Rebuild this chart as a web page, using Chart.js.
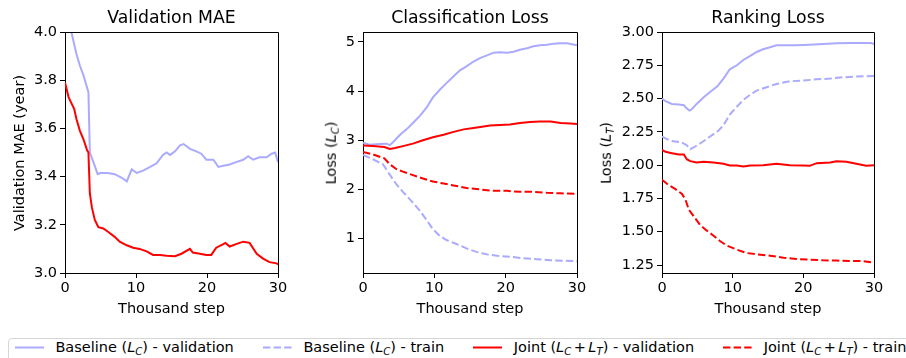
<!DOCTYPE html>
<html><head><meta charset="utf-8">
<script src="https://cdn.jsdelivr.net/npm/chart.js@4.4.1/dist/chart.umd.min.js"></script>
<style>
html,body{margin:0;padding:0;background:#fff;width:906px;height:358px;overflow:hidden;position:relative;font-family:'DejaVu Sans',sans-serif;color:#000;}
canvas{position:absolute;top:0;}
.ylab{position:absolute;font-size:14.5px;line-height:1;white-space:nowrap;color:#000;transform:translate(-50%,-50%) rotate(-90deg);}
.m sub,#legend sub{font-size:70%;vertical-align:baseline;position:relative;top:0.28em;line-height:0;font-style:italic;}
.op{margin:0 0.17em;}
#legend{position:absolute;left:8px;top:338px;width:940px;height:40px;border:1px solid #d6d6d6;border-radius:4px;box-sizing:border-box;display:flex;align-items:flex-start;padding-left:5.8px;padding-top:0px;font-size:14.5px;}
#legend .item{display:flex;align-items:center;height:17px;line-height:17px;margin-right:29px;white-space:nowrap;}
#legend svg{margin-right:11.6px;display:block;}
</style>
</head><body>
<canvas id="c1" width="300" height="330" style="left:0px"></canvas>
<canvas id="c2" width="300" height="330" style="left:300px"></canvas>
<canvas id="c3" width="306" height="330" style="left:600px"></canvas>
<div class="ylab m" style="left:18.6px;top:152.5px">Validation MAE (year)</div>
<div class="ylab m" style="left:330.6px;top:152.5px">Loss (<i>L</i><sub>C</sub>)</div>
<div class="ylab m" style="left:605.6px;top:152.5px">Loss (<i>L</i><sub>T</sub>)</div>
<div id="legend"></div>
<script>
// ---- tick values ----
const xTicks = [0, 10, 20, 30];
const maeTicks = [3.0, 3.2, 3.4, 3.6, 3.8, 4.0];
const clsTicks = [1, 2, 3, 4, 5];
const rankTicks = [1.25, 1.50, 1.75, 2.00, 2.25, 2.50, 2.75, 3.00];

// ---- series names ----
const seriesNames = [
  'Baseline (<i>L</i><sub>C</sub>) - validation',
  'Baseline (<i>L</i><sub>C</sub>) - train',
  'Joint (<i>L</i><sub>C</sub><span class="op">+</span><i>L</i><sub>T</sub>) - validation',
  'Joint (<i>L</i><sub>C</sub><span class="op">+</span><i>L</i><sub>T</sub>) - train'
];

// ---- Validation MAE (thousand steps / years) ----
const maeBaseSteps = [0, 0.9, 1.6, 2.1, 2.6, 3.1, 3.3, 3.5, 4.0, 4.6, 5.0, 6.0, 7.0, 8.0, 8.7, 9.4, 10.1, 11.0, 12.0, 12.9, 13.8, 14.3, 14.8, 15.5, 16.2, 16.7, 17.6, 18.5, 19.2, 19.9, 20.9, 21.6, 22.3, 23.2, 24.1, 25.1, 25.8, 26.5, 27.4, 28.4, 29.1, 29.6, 30];
const maeBaseVals  = [4.10, 4.00, 3.91, 3.86, 3.82, 3.77, 3.75, 3.50, 3.46, 3.41, 3.415, 3.415, 3.41, 3.395, 3.38, 3.43, 3.415, 3.425, 3.44, 3.455, 3.49, 3.50, 3.49, 3.505, 3.53, 3.535, 3.515, 3.505, 3.495, 3.47, 3.47, 3.44, 3.445, 3.45, 3.46, 3.47, 3.485, 3.47, 3.48, 3.48, 3.495, 3.50, 3.46];
const maeJointSteps = [0, 0.5, 0.9, 1.3, 1.6, 2.1, 2.6, 3.1, 3.3, 3.5, 3.8, 4.2, 4.7, 5.4, 6.1, 7.0, 7.7, 8.7, 9.6, 10.5, 11.5, 12.4, 13.4, 14.3, 15.5, 16.4, 17.6, 18.0, 19.0, 19.9, 20.6, 21.3, 22.3, 22.6, 23.2, 24.1, 25.1, 26.0, 27.0, 27.9, 28.8, 29.8, 30];
const maeJointVals  = [3.79, 3.73, 3.705, 3.68, 3.64, 3.59, 3.555, 3.51, 3.50, 3.33, 3.27, 3.22, 3.19, 3.185, 3.17, 3.15, 3.13, 3.115, 3.105, 3.10, 3.09, 3.075, 3.075, 3.072, 3.07, 3.08, 3.10, 3.085, 3.08, 3.075, 3.075, 3.105, 3.12, 3.125, 3.11, 3.12, 3.13, 3.125, 3.08, 3.06, 3.045, 3.04, 3.035];

// ---- Classification loss ----
const clsBaseValSteps = [0, 0.9, 2.3, 3.3, 3.75, 4.2, 5.2, 6.1, 7.0, 8.0, 8.9, 9.8, 10.8, 11.7, 12.7, 13.6, 14.5, 15.5, 16.4, 17.3, 18.3, 19.2, 20.2, 21.1, 22.0, 23.0, 23.9, 24.8, 25.8, 26.7, 27.7, 28.6, 29.3, 30];
const clsBaseValVals  = [2.95, 2.91, 2.925, 2.93, 2.90, 2.96, 3.11, 3.22, 3.35, 3.50, 3.66, 3.87, 4.03, 4.16, 4.30, 4.42, 4.50, 4.60, 4.67, 4.72, 4.78, 4.79, 4.78, 4.80, 4.84, 4.87, 4.91, 4.93, 4.94, 4.96, 4.97, 4.97, 4.95, 4.93];
const clsBaseTrainSteps = [0, 1.4, 2.8, 3.75, 4.7, 5.6, 7.0, 8.0, 8.9, 9.8, 10.8, 11.7, 13.1, 14.5, 15.9, 17.3, 18.8, 20.6, 22.5, 24.4, 26.3, 28.1, 30];
const clsBaseTrainVals  = [2.70, 2.61, 2.51, 2.30, 2.10, 1.95, 1.73, 1.56, 1.38, 1.19, 1.05, 0.97, 0.89, 0.80, 0.73, 0.68, 0.65, 0.63, 0.60, 0.58, 0.56, 0.55, 0.54];
const clsJointValSteps = [0, 1.4, 3.0, 3.75, 4.5, 5.6, 7.0, 8.4, 9.8, 11.3, 12.7, 14.1, 15.5, 16.9, 17.8, 19.2, 20.6, 22.0, 23.4, 24.8, 26.3, 27.7, 29.1, 30];
const clsJointValVals  = [2.89, 2.88, 2.86, 2.82, 2.84, 2.88, 2.93, 3.00, 3.06, 3.11, 3.17, 3.22, 3.25, 3.28, 3.30, 3.31, 3.32, 3.35, 3.37, 3.38, 3.38, 3.35, 3.34, 3.33];
const clsJointTrainSteps = [0, 1.4, 3.0, 3.75, 4.7, 5.6, 7.0, 8.4, 9.8, 11.3, 12.7, 14.5, 16.4, 18.3, 20.2, 22.0, 23.9, 25.8, 27.7, 30];
const clsJointTrainVals  = [2.76, 2.71, 2.63, 2.51, 2.41, 2.36, 2.29, 2.22, 2.16, 2.12, 2.08, 2.03, 2.00, 1.97, 1.97, 1.95, 1.95, 1.93, 1.92, 1.91];

// ---- Ranking loss ----
const rankBaseValSteps = [0, 0.5, 1.4, 2.4, 3.1, 3.4, 3.9, 4.2, 4.9, 5.9, 6.8, 7.8, 8.7, 9.6, 10.6, 11.5, 12.5, 13.4, 14.3, 15.3, 16.2, 17.2, 19.0, 20.9, 22.8, 24.7, 26.6, 28.4, 29.6, 30];
const rankBaseValVals  = [2.50, 2.48, 2.46, 2.455, 2.45, 2.43, 2.41, 2.42, 2.46, 2.51, 2.55, 2.59, 2.65, 2.72, 2.75, 2.79, 2.82, 2.85, 2.87, 2.885, 2.90, 2.90, 2.90, 2.905, 2.91, 2.915, 2.917, 2.917, 2.917, 2.91];
const rankBaseTrainSteps = [0, 0.7, 1.6, 2.8, 3.5, 4.0, 4.7, 5.6, 6.8, 8.0, 8.7, 9.6, 10.6, 11.5, 12.5, 13.4, 14.8, 16.2, 18.1, 20.0, 21.9, 23.8, 25.6, 27.5, 30];
const rankBaseTrainVals  = [2.215, 2.195, 2.18, 2.17, 2.15, 2.12, 2.14, 2.17, 2.215, 2.26, 2.30, 2.38, 2.44, 2.49, 2.53, 2.56, 2.585, 2.61, 2.63, 2.635, 2.645, 2.65, 2.66, 2.665, 2.67];
const rankJointValSteps = [0, 0.5, 1.4, 2.4, 3.1, 3.5, 4.0, 4.9, 5.9, 7.3, 8.7, 9.6, 10.6, 11.5, 12.5, 14.3, 16.2, 18.1, 20.0, 20.9, 21.9, 23.8, 24.7, 26.1, 27.5, 28.9, 30];
const rankJointValVals  = [2.115, 2.10, 2.09, 2.08, 2.08, 2.045, 2.03, 2.02, 2.025, 2.02, 2.01, 1.998, 1.998, 1.99, 1.998, 2.00, 2.01, 2.00, 1.998, 1.995, 2.015, 2.02, 2.03, 2.025, 2.01, 1.995, 2.00];
const rankJointTrainSteps = [0, 0.7, 1.9, 2.8, 3.3, 3.8, 4.5, 5.4, 6.3, 7.3, 8.2, 9.2, 10.6, 12.0, 13.4, 15.3, 17.2, 19.0, 20.9, 22.8, 24.7, 26.6, 28.4, 30];
const rankJointTrainVals  = [1.89, 1.86, 1.82, 1.785, 1.745, 1.665, 1.615, 1.55, 1.51, 1.47, 1.43, 1.395, 1.365, 1.34, 1.33, 1.32, 1.305, 1.295, 1.29, 1.285, 1.283, 1.28, 1.28, 1.268];

// ---- styling ----
const FONT = "'DejaVu Sans'";
const BLUE = '#aaaaff';
const RED = '#ff0000';
const DASH = [7.4, 3.2];
const seriesStyles = [
  {color: BLUE, dash: []},
  {color: BLUE, dash: DASH},
  {color: RED, dash: []},
  {color: RED, dash: DASH}
];

function series(steps, vals, idx) {
  const st = seriesStyles[idx];
  return {
    data: steps.map((s, i) => ({x: s, y: vals[i]})),
    borderColor: st.color, borderWidth: 2, borderDash: st.dash,
    pointRadius: 0, tension: 0, fill: false, clip: 0
  };
}

function alignPx(p) { return Math.round(p - 0.5) + 0.5; }
const boxPlugin = {
  id: 'box',
  afterDatasetsDraw(chart) {
    const {ctx, chartArea: a} = chart;
    ctx.save();
    ctx.strokeStyle = '#000';
    ctx.lineWidth = 1;
    ctx.beginPath();
    ctx.moveTo(alignPx(a.left), alignPx(a.top));
    ctx.lineTo(alignPx(a.right), alignPx(a.top));
    ctx.lineTo(alignPx(a.right), alignPx(a.bottom));
    ctx.stroke();
    ctx.restore();
  }
};

function axisCommon() {
  return {
    grid: {display: true, drawOnChartArea: false, drawTicks: true, tickLength: 5, color: '#000', lineWidth: 1},
    border: {display: true, color: '#000', width: 1}
  };
}

function makeChart(id, title, yMin, yMax, yTicks, yDec, yWidth, padRight, datasets) {
  // draw order: later matplotlib series on top -> reverse for Chart.js
  const ds = datasets.slice().reverse();
  return new Chart(document.getElementById(id), {
    type: 'line',
    data: {datasets: ds},
    plugins: [boxPlugin],
    options: {
      responsive: false, animation: false, devicePixelRatio: 1,
      layout: {padding: {left: 0, right: padRight, top: 0, bottom: 0}},
      plugins: {
        legend: {display: false}, tooltip: {enabled: false},
        title: {display: true, text: title, color: '#000', fullSize: false,
          font: {family: FONT, size: 17.3, weight: 'normal'}, padding: {top: 8, bottom: 3.24}}
      },
      scales: {
        x: Object.assign(axisCommon(), {
          type: 'linear', min: 0, max: 30,
          afterBuildTicks: s => { s.ticks = xTicks.map(v => ({value: v})); },
          afterFit: s => { s.height = 57; },
          ticks: {color: '#000', font: {family: FONT, size: 14.5}, padding: 2, maxRotation: 0, autoSkip: false,
            callback: v => String(v)},
          title: {display: true, text: 'Thousand step', color: '#000', font: {family: FONT, size: 14.5},
            padding: {top: 0, bottom: 12.3}}
        }),
        y: Object.assign(axisCommon(), {
          type: 'linear', min: yMin, max: yMax,
          afterBuildTicks: s => { s.ticks = yTicks.map(v => ({value: v})); },
          afterFit: s => { s.width = yWidth; },
          ticks: {color: '#000', font: {family: FONT, size: 14.5}, padding: 3, autoSkip: false,
            callback: v => Number(v).toFixed(yDec)}
        })
      }
    }
  });
}

makeChart('c1', 'Validation MAE', 3.0, 4.0, maeTicks, 1, 65, 22, [
  series(maeBaseSteps, maeBaseVals, 0),
  series(maeJointSteps, maeJointVals, 2)
]);
makeChart('c2', 'Classification Loss', 0.3, 5.2, clsTicks, 0, 63, 23, [
  series(clsBaseValSteps, clsBaseValVals, 0),
  series(clsBaseTrainSteps, clsBaseTrainVals, 1),
  series(clsJointValSteps, clsJointValVals, 2),
  series(clsJointTrainSteps, clsJointTrainVals, 3)
]);
makeChart('c3', 'Ranking Loss', 1.19, 3.0, rankTicks, 2, 62, 32, [
  series(rankBaseValSteps, rankBaseValVals, 0),
  series(rankBaseTrainSteps, rankBaseTrainVals, 1),
  series(rankJointValSteps, rankJointValVals, 2),
  series(rankJointTrainSteps, rankJointTrainVals, 3)
]);

// legend
const leg = document.getElementById('legend');
seriesNames.forEach((name, i) => {
  const st = seriesStyles[i];
  const item = document.createElement('div');
  item.className = 'item';
  item.innerHTML = '<svg width="29" height="17"><line x1="0" y1="8.5" x2="29" y2="8.5" stroke="' + st.color +
    '" stroke-width="2" ' + (st.dash.length ? 'stroke-dasharray="' + st.dash.join(' ') + '"' : '') + '/></svg><span>' + name + '</span>';
  leg.appendChild(item);
});
</script>
</body></html>
